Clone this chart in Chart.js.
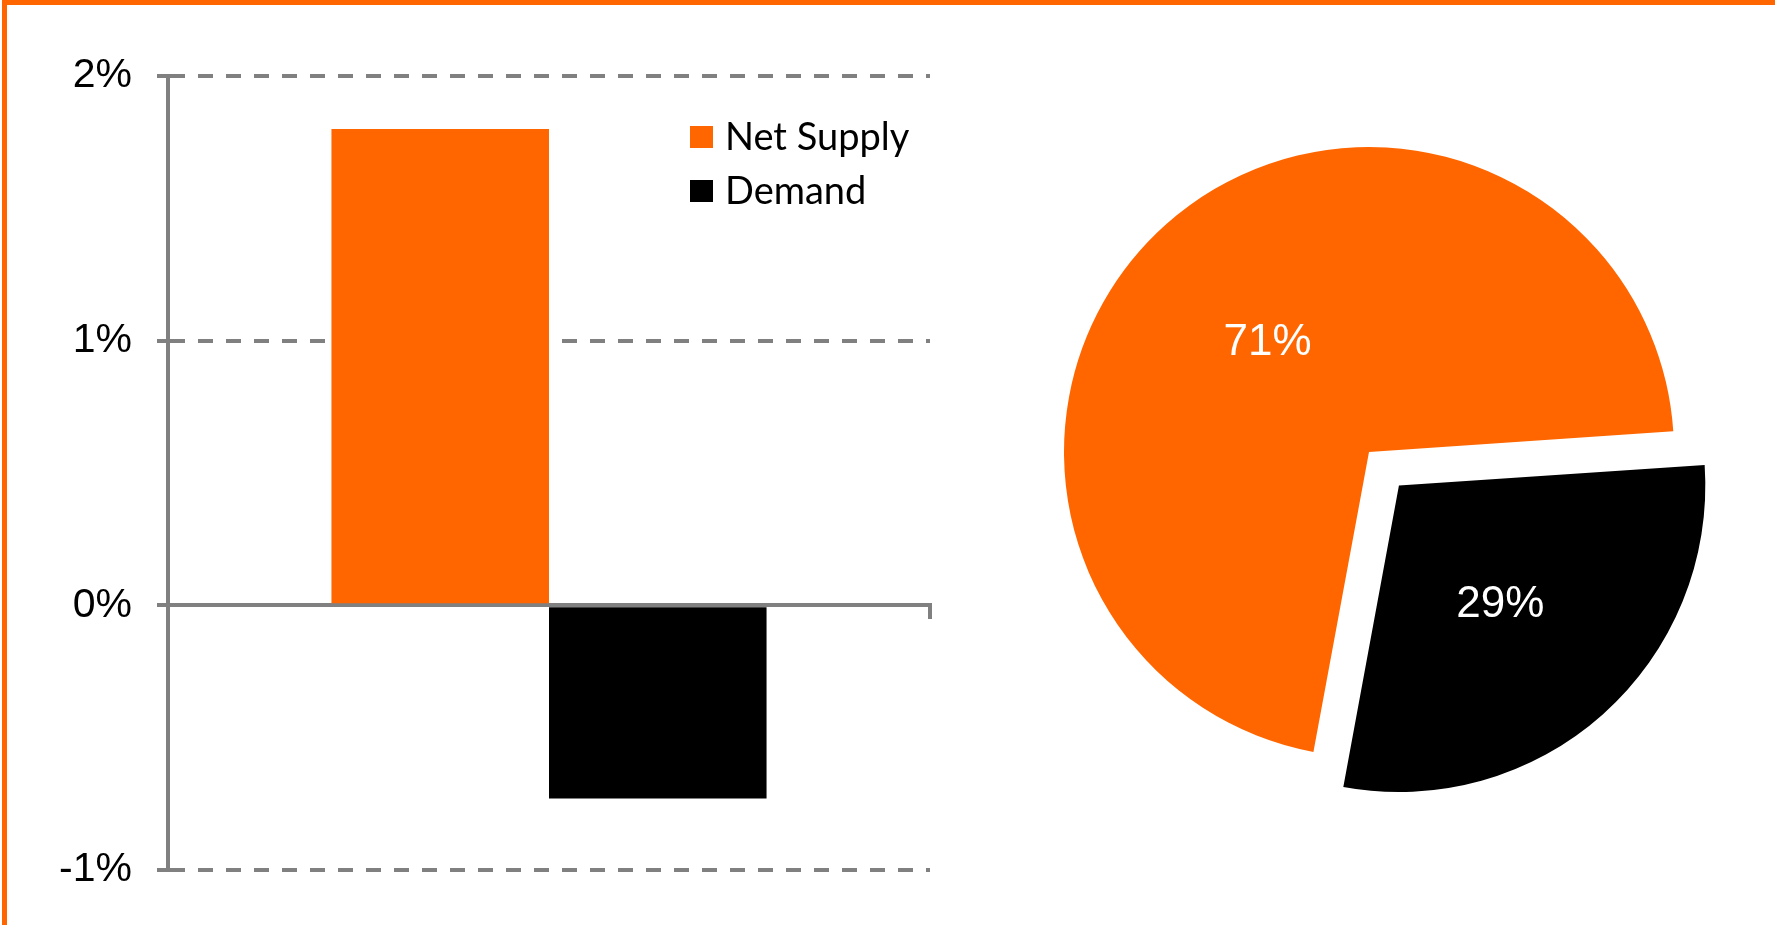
<!DOCTYPE html>
<html>
<head>
<meta charset="utf-8">
<script src="https://cdn.jsdelivr.net/npm/chart.js@4.4.1/dist/chart.umd.min.js"></script>
<style>
  body { margin: 0; background: #fff; }
  #page { position: relative; width: 1775px; height: 925px; overflow: hidden; background: #fff; }
  #frame { position: absolute; left: 2px; top: 0; width: 1773px; height: 925px;
           border-top: 5px solid #ff6600; border-left: 5px solid #ff6600; box-sizing: border-box; }
  #barChart { position: absolute; left: 0; top: 0; }
  #pieChart { position: absolute; left: 969px; top: 52px; }
  .legend-item { position: absolute; left: 690px; height: 38px; }
  .legend-box { position: absolute; left: 0; width: 23px; height: 22px; }
  .legend-text { position: absolute; left: 35px; white-space: nowrap; font-family: Lato, sans-serif;
                 font-size: 38px; line-height: 38px; color: #000; }
</style>
</head>
<body>
<div id="page">
  <div id="frame"></div>
  <canvas id="barChart" width="1000" height="925"></canvas>
  <canvas id="pieChart" width="800" height="800"></canvas>
  <div id="legend"></div>
</div>
<script>
// data
const categories = [""];
const seriesNames = ["Net Supply", "Demand"];
const netSupply = [1.8];
const demand = [-0.73];
const yTicks = [-1, 0, 1, 2];
const pieLabels = ["Net Supply", "Demand"];
const pieValues = [71, 29];

const orange = "#ff6600";
const black = "#000000";
const gray = "#808080";

// legend (html, sits inside the bar chart area)
const legend = document.getElementById("legend");
[orange, black].forEach(function (c, i) {
  const top = 116 + i * 54;
  legend.insertAdjacentHTML("beforeend", `
    <div class="legend-item" style="top:${top}px">
      <div class="legend-box" style="top:10px;background:${c}"></div>
      <div class="legend-text" style="top:0">${seriesNames[i]}</div>
    </div>`);
});

new Chart(document.getElementById("barChart"), {
  type: "bar",
  data: {
    labels: categories,
    datasets: [
      { label: seriesNames[0], data: netSupply, backgroundColor: orange, borderWidth: 0 },
      { label: seriesNames[1], data: demand, backgroundColor: black, borderWidth: 0 },
    ],
  },
  options: {
    responsive: false,
    animation: false,
    devicePixelRatio: 1,
    categoryPercentage: 0.571,
    barPercentage: 1,
    layout: { padding: { left: 0, top: 76, right: 70, bottom: 55 } },
    plugins: { legend: { display: false }, tooltip: { enabled: false } },
    scales: {
      x: {
        position: { y: 0 },
        z: 1,
        offset: true,
        grid: { drawOnChartArea: false, drawTicks: true, tickLength: 12, color: gray, lineWidth: 4, offset: true },
        border: { display: true, color: gray, width: 4 },
        ticks: { display: false },
      },
      y: {
        min: yTicks[0],
        max: yTicks[yTicks.length - 1],
        afterFit: function (s) { s.width = 168; },
        afterBuildTicks: function (s) { s.ticks = yTicks.map(v => ({ value: v })); },
        grid: { color: gray, lineWidth: 4, tickLength: 11, tickBorderDash: [] },
        border: {
          display: true, color: gray, width: 4,
          dash: ctx => (ctx.tick && ctx.tick.value === 0) ? [] : [15, 13],
        },
        ticks: {
          padding: 25,
          color: "#000",
          font: { family: "'Liberation Sans', Arial, sans-serif", size: 41 },
          callback: v => v + "%",
        },
      },
    },
  },
});

// percentage labels on the pie slices
const sliceLabels = {
  id: "sliceLabels",
  afterDatasetsDraw(chart) {
    const ctx = chart.ctx;
    const meta = chart.getDatasetMeta(0);
    ctx.save();
    ctx.fillStyle = "#fff";
    ctx.font = "44px 'Liberation Sans', Arial, sans-serif";
    ctx.textAlign = "center";
    ctx.textBaseline = "middle";
    meta.data.forEach(function (arc, i) {
      const p = arc.getProps(["x", "y", "startAngle", "endAngle", "outerRadius"]);
      const mid = (p.startAngle + p.endAngle) / 2;
      const shift = (arc.options.offset || 0) / 4;
      const r = p.outerRadius * 0.5 + shift;
      // small nudge down so the digits sit like the original
      ctx.fillText(pieValues[i] + "%", p.x + Math.cos(mid) * r, p.y + Math.sin(mid) * r + 5);
    });
    ctx.restore();
  },
};

new Chart(document.getElementById("pieChart"), {
  type: "pie",
  data: {
    labels: pieLabels,
    datasets: [{
      data: pieValues,
      backgroundColor: [orange, black],
      borderWidth: 0,
      offset: [0, 180],
    }],
  },
  options: {
    responsive: false,
    animation: false,
    devicePixelRatio: 1,
    radius: 305,
    rotation: 190.5,
    plugins: { legend: { display: false }, tooltip: { enabled: false } },
  },
  plugins: [sliceLabels],
});
</script>
</body>
</html>
